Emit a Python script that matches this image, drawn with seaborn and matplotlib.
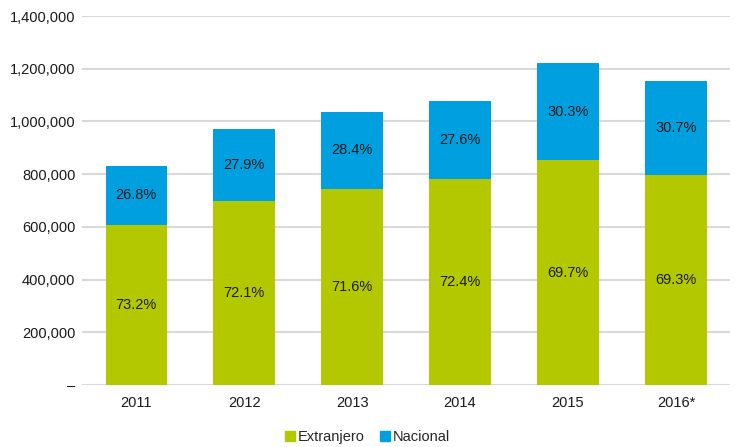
import matplotlib
matplotlib.use("Agg")
import matplotlib.pyplot as plt
from matplotlib.ticker import FuncFormatter
from matplotlib.patches import Patch
import seaborn as sns
import pandas as pd

years = ["2011", "2012", "2013", "2014", "2015", "2016*"]
extranjero = [608000, 699000, 744000, 782000, 852000, 798000]
nacional = [223000, 272000, 293000, 297000, 370000, 356000]
pct_extranjero = ["73.2%", "72.1%", "71.6%", "72.4%", "69.7%", "69.3%"]
pct_nacional = ["26.8%", "27.9%", "28.4%", "27.6%", "30.3%", "30.7%"]

green = "#b4c800"
blue = "#009fdf"

df = pd.DataFrame({"year": years, "Extranjero": extranjero, "Nacional": nacional})
df["total"] = df["Extranjero"] + df["Nacional"]

sns.set_style("white")
plt.rcParams["font.family"] = ["Liberation Sans", "DejaVu Sans"]

fig = plt.figure(figsize=(7.35, 4.47), dpi=100)
ax = fig.add_axes([0.112, 0.139, 0.881, 0.825])

# stacked: draw totals in blue, then extranjero in green on top
sns.barplot(data=df, x="year", y="total", color=blue, width=0.57,
            saturation=1, ax=ax, zorder=2, linewidth=0)
sns.barplot(data=df, x="year", y="Extranjero", color=green, width=0.57,
            saturation=1, ax=ax, zorder=3, linewidth=0)

for i, row in df.iterrows():
    ax.text(i, row["Extranjero"] / 2, pct_extranjero[i], ha="center", va="center",
            fontsize=10.5, color="#1a1a1a", zorder=4)
    ax.text(i, row["Extranjero"] + row["Nacional"] / 2, pct_nacional[i],
            ha="center", va="center", fontsize=10.5, color="#1a1a1a", zorder=4)

ax.set_ylim(0, 1400000)
ax.set_yticks(range(0, 1400001, 200000))
ax.yaxis.set_major_formatter(FuncFormatter(lambda v, p: "–" if v == 0 else f"{int(v):,}"))
ax.grid(axis="y", color="#d9d9d9", linewidth=1.5, zorder=0)
ax.set_axisbelow(True)
for s in ax.spines.values():
    s.set_visible(False)
ax.tick_params(axis="both", length=0, labelsize=10.5, colors="#1a1a1a")
ax.tick_params(axis="y", pad=5)
ax.tick_params(axis="x", pad=8)
ax.set_xlabel("")
ax.set_ylabel("")
ax.set_xlim(-0.5, 5.5)

handles = [Patch(color=green, label="Extranjero"), Patch(color=blue, label="Nacional")]
fig.legend(handles=handles, loc="lower center", bbox_to_anchor=(0.5, -0.022), ncol=2,
           frameon=False, fontsize=10.5, handlelength=0.7, handleheight=0.7,
           handletextpad=0.2, columnspacing=1.0)

fig.savefig("out.png", dpi=100)
